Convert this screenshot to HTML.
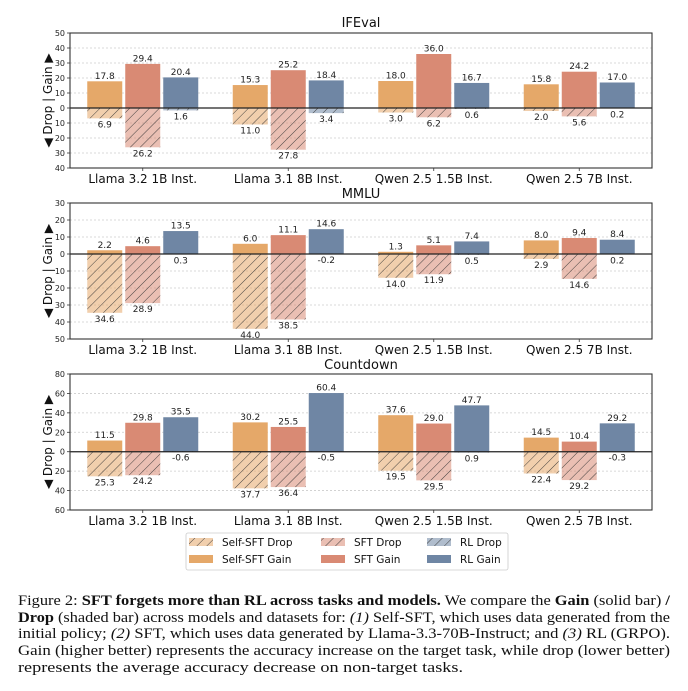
<!DOCTYPE html>
<html><head><meta charset="utf-8"><style>
html,body{margin:0;padding:0;background:#fff;width:688px;height:691px;overflow:hidden}
svg{display:block;font-family:"DejaVu Sans","Liberation Sans",sans-serif}
.cap{font-family:"Liberation Serif",serif;font-size:14.3px;fill:#111}
</style></head><body>
<svg id="fig" width="688" height="691" viewBox="0 0 688 691">
<defs>
<pattern id="hatch" width="7" height="7" patternUnits="userSpaceOnUse" patternTransform="rotate(45)">
<line x1="0" y1="0" x2="0" y2="7" stroke="#333" stroke-width="0.9"/>
</pattern>
</defs>
<g id="charts"></g>
<g>
<rect x="186" y="533" width="322" height="37" fill="#fff" stroke="#ccc" stroke-width="0.8" rx="2"/>
<g id="legend-items"></g>
</g>
<g>
<text class="cap" x="18" y="605" textLength="652" lengthAdjust="spacingAndGlyphs">Figure 2: <tspan font-weight="bold">SFT forgets more than RL across tasks and models.</tspan> We compare the <tspan font-weight="bold">Gain</tspan> (solid bar) <tspan font-weight="bold">/</tspan></text>
<text class="cap" x="18" y="622" textLength="652" lengthAdjust="spacingAndGlyphs"><tspan font-weight="bold">Drop</tspan> (shaded bar) across models and datasets for: <tspan font-style="italic">(1)</tspan> Self-SFT, which uses data generated from the</text>
<text class="cap" x="18" y="638" textLength="652" lengthAdjust="spacingAndGlyphs">initial policy; <tspan font-style="italic">(2)</tspan> SFT, which uses data generated by Llama-3.3-70B-Instruct; and <tspan font-style="italic">(3)</tspan> RL (GRPO).</text>
<text class="cap" x="18" y="655" textLength="652" lengthAdjust="spacingAndGlyphs">Gain (higher better) represents the accuracy increase on the target task, while drop (lower better)</text>
<text class="cap" x="18" y="672" textLength="445" lengthAdjust="spacingAndGlyphs">represents the average accuracy decrease on non-target tasks.</text>
</g>
</svg>
<script>
const categories = ["Llama 3.2 1B Inst.","Llama 3.1 8B Inst.","Qwen 2.5 1.5B Inst.","Qwen 2.5 7B Inst."];
const panelTitles = ["IFEval","MMLU","Countdown"];
const ifevalGain = [[17.8,29.4,20.4],[15.3,25.2,18.4],[18.0,36.0,16.7],[15.8,24.2,17.0]];
const ifevalDrop = [[6.9,26.2,1.6],[11.0,27.8,3.4],[3.0,6.2,0.6],[2.0,5.6,0.2]];
const mmluGain = [[2.2,4.6,13.5],[6.0,11.1,14.6],[1.3,5.1,7.4],[8.0,9.4,8.4]];
const mmluDrop = [[34.6,28.9,0.3],[44.0,38.5,-0.2],[14.0,11.9,0.5],[2.9,14.6,0.2]];
const cdGain = [[11.5,29.8,35.5],[30.2,25.5,60.4],[37.6,29.0,47.7],[14.5,10.4,29.2]];
const cdDrop = [[25.3,24.2,-0.6],[37.7,36.4,-0.5],[19.5,29.5,0.9],[22.4,29.2,-0.3]];
const ifevalTicks = [50,40,30,20,10,0,-10,-20,-30,-40];
const mmluTicks = [30,20,10,0,-10,-20,-30,-40,-50];
const cdTicks = [80,60,40,20,0,-20,-40,-60];
const seriesNames = ["Self-SFT","SFT","RL"];

const colors = ["#E5A869","#D98A74","#6F86A4"];
const NS = "http://www.w3.org/2000/svg";
function mk(tag, attrs, parent){const e=document.createElementNS(NS,tag);for(const k in attrs)e.setAttribute(k,attrs[k]);parent.appendChild(e);return e;}

const panels = [
 {gain:ifevalGain, drop:ifevalDrop, ticks:ifevalTicks, top:33, bottom:168, titleY:27, name:"ifeval"},
 {gain:mmluGain, drop:mmluDrop, ticks:mmluTicks, top:203, bottom:339, titleY:198, name:"mmlu"},
 {gain:cdGain, drop:cdDrop, ticks:cdTicks, top:374, bottom:510, titleY:369, name:"countdown"}
];
const L=70, R=652;
const root=document.getElementById("charts");
panels.forEach((p,pi)=>{
  const g=mk("g",{},root);
  
  
  const maxV=p.ticks[0], minV=p.ticks[p.ticks.length-1];
  const y=v=>p.top+(maxV-v)/(maxV-minV)*(p.bottom-p.top);
  const x=i=>L+(R-L)*(i+0.5)/categories.length;
  p.ticks.forEach(t=>{
    if(t!==maxV && t!==minV && t!==0) mk("line",{x1:L,x2:R,y1:y(t),y2:y(t),stroke:"#ccc","stroke-width":0.8,"stroke-dasharray":"2,2"},g);
    mk("line",{x1:L-3,x2:L,y1:y(t),y2:y(t),stroke:"#333","stroke-width":0.8},g);
    const tl=mk("text",{x:L-5,y:y(t)+3,"font-size":"8px","text-anchor":"end",fill:"#222"},g);
    tl.textContent=Math.abs(t);
    
    
  });
  const w=35, off=38;
  categories.forEach((c,ci)=>{
    for(let s=0;s<3;s++){
      const cx=x(ci)+(s-1)*off;
      const gv=p.gain[ci][s], dv=p.drop[ci][s];
      const gb=mk("rect",{x:cx-w/2,y:Math.min(y(gv),y(0)),width:w,height:Math.abs(y(0)-y(gv)),fill:colors[s]},g);
      
      
      const y0=y(0), yd=y(-dv);
      const dy=Math.min(y0,yd), dh=Math.abs(yd-y0);
      const db=mk("rect",{x:cx-w/2,y:dy,width:w,height:dh,fill:colors[s],"fill-opacity":0.55},g);
      
      
      mk("rect",{x:cx-w/2,y:dy,width:w,height:dh,fill:"url(#hatch)"},g);
      const t1=mk("text",{x:cx,y:y(gv)-2.5,"font-size":"9px","text-anchor":"middle",fill:"#222"},g);
      t1.textContent=gv.toFixed(1);
      
      
      const t2=mk("text",{x:cx,y:Math.max(y0,yd)+9,"font-size":"9px","text-anchor":"middle",fill:"#222"},g);
      t2.textContent=dv.toFixed(1);
      
      
    }
    mk("line",{x1:x(ci),x2:x(ci),y1:p.bottom,y2:p.bottom+3,stroke:"#333","stroke-width":0.8},g);
    const xl=mk("text",{x:x(ci),y:p.bottom+15,"font-size":"12px","text-anchor":"middle",fill:"#111"},g);
    xl.textContent=c;
    
    
  });
  mk("line",{x1:L,x2:R,y1:y(0),y2:y(0),stroke:"#222","stroke-width":1.3},g);
  mk("rect",{x:L,y:p.top,width:R-L,height:p.bottom-p.top,fill:"none",stroke:"#333","stroke-width":1.1},g);
  const tt=mk("text",{x:(L+R)/2,y:p.titleY,"font-size":"13px","text-anchor":"middle",fill:"#111"},g);
  tt.textContent=panelTitles[pi];
  
  
  const cy=(p.top+p.bottom)/2;
  const yl=mk("text",{x:52,y:cy,"font-size":"12px","text-anchor":"middle",fill:"#111",transform:`rotate(-90 52 ${cy})`},g);
  yl.textContent="◀ Drop | Gain ▶";
  
  
});
const lg=document.getElementById("legend-items");
const legX=[189,321,427];
seriesNames.forEach((n,s)=>{
  const lx=legX[s];
  const r1=mk("rect",{x:lx,y:538,width:24,height:8,fill:colors[s],"fill-opacity":0.55},lg);
  mk("rect",{x:lx,y:538,width:24,height:8,fill:"url(#hatch)"},lg);
  
  
  const t1=mk("text",{x:lx+33,y:546,"font-size":"10.5px",fill:"#111"},lg);
  t1.textContent=n+" Drop";
  
  
  const r2=mk("rect",{x:lx,y:555,width:24,height:8,fill:colors[s]},lg);
  
  
  const t2=mk("text",{x:lx+33,y:563,"font-size":"10.5px",fill:"#111"},lg);
  t2.textContent=n+" Gain";
  
  
});
</script>
</body></html>
